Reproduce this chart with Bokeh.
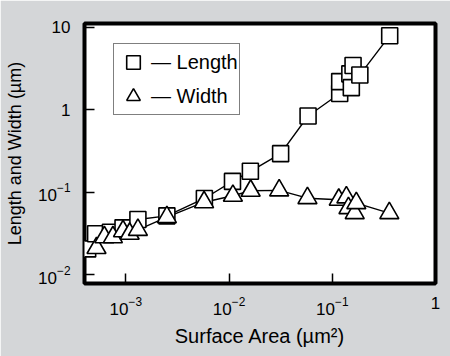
from bokeh.plotting import figure
from bokeh.models import Legend, LegendItem, ColumnDataSource
from bokeh.embed import file_html
from bokeh.resources import INLINE

# Length (squares)
length_area = [4.27e-4, 5.1e-4, 7.1e-4, 9.4e-4, 1.31e-3, 2.5e-3, 5.77e-3, 0.0108, 0.0161,
               0.0316, 0.0583, 0.118, 0.118, 0.148, 0.153, 0.159, 0.185, 0.36]
length_um = [0.0205, 0.0313, 0.0327, 0.0369, 0.0466, 0.0516, 0.0838, 0.135, 0.179,
             0.293, 0.838, 1.57, 2.19, 2.72, 1.85, 3.43, 2.64, 7.9]

# Width (triangles)
width_area = [5.2e-4, 6.2e-4, 7.5e-4, 9.4e-4, 1.09e-3, 1.31e-3, 2.5e-3, 5.73e-3, 0.0109,
              0.0162, 0.0306, 0.0575, 0.1156, 0.137, 0.1435, 0.165, 0.171, 0.357]
width_um = [0.0210, 0.0284, 0.0284, 0.0336, 0.0313, 0.0349, 0.0497, 0.0755, 0.0904,
            0.104, 0.105, 0.0845, 0.0809, 0.0863, 0.064, 0.0556, 0.0735, 0.0556]

FONT = "Liberation Sans"
BG = "#d4d6d8"

p = figure(width=450, height=356, x_axis_type="log", y_axis_type="log",
           x_range=(3.98e-4, 1.0), y_range=(7.8e-3, 11.1),
           output_backend="svg", toolbar_location=None,
           min_border_left=84, min_border_right=15, min_border_top=23, min_border_bottom=73)

p.background_fill_color = "white"
p.border_fill_color = BG
p.outline_line_color = "black"
p.outline_line_width = 4
p.xgrid.visible = False
p.ygrid.visible = False

ls = ColumnDataSource(dict(x=length_area, y=length_um))
ws = ColumnDataSource(dict(x=width_area, y=width_um))

p.line("x", "y", source=ls, line_color="black", line_width=1.4)
p.line("x", "y", source=ws, line_color="black", line_width=1.4)
rl = p.scatter("x", "y", source=ls, marker="square", size=16, fill_color="white",
               line_color="black", line_width=1.6)
rw = p.scatter("x", "y", source=ws, marker="triangle", size=19, fill_color="white",
               line_color="black", line_width=1.6)

for ax in (p.xaxis[0], p.yaxis[0]):
    ax.axis_line_color = None
    ax.major_tick_in = 10
    ax.major_tick_out = 0
    ax.major_tick_line_width = 1.5
    ax.minor_tick_line_color = None
    ax.major_label_text_font = FONT
    ax.major_label_text_font_size = "17px"
    ax.major_label_text_color = "black"
    ax.axis_label_text_font = FONT
    ax.axis_label_text_font_style = "normal"
    ax.axis_label_text_color = "black"

p.xaxis[0].major_label_overrides = {1: "1"}
p.yaxis[0].major_label_overrides = {1: "1", 10: "10"}
p.xaxis[0].major_label_standoff = 9
p.yaxis[0].major_label_standoff = 10
p.xaxis[0].axis_label = "Surface Area (µm²)"
p.yaxis[0].axis_label = "Length and Width (µm)"
p.xaxis[0].axis_label_text_font_size = "20px"
p.yaxis[0].axis_label_text_font_size = "18px"
p.xaxis[0].axis_label_standoff = 7
p.yaxis[0].axis_label_standoff = 10

legend = Legend(items=[LegendItem(label="— Length", renderers=[rl]),
                       LegendItem(label="— Width", renderers=[rw])],
                location=(29, 168), orientation="vertical")
legend.border_line_color = "black"
legend.border_line_width = 1.5
legend.background_fill_color = "white"
legend.background_fill_alpha = 1
legend.glyph_width = 36
legend.glyph_height = 34
legend.label_height = 30
legend.spacing = 0
legend.padding = 1
legend.margin = 0
legend.label_standoff = 0
legend.label_text_font = FONT
legend.label_text_font_size = "20px"
legend.label_text_color = "black"
p.add_layout(legend, "center")

open("out.html", "w").write(file_html(p, INLINE))
